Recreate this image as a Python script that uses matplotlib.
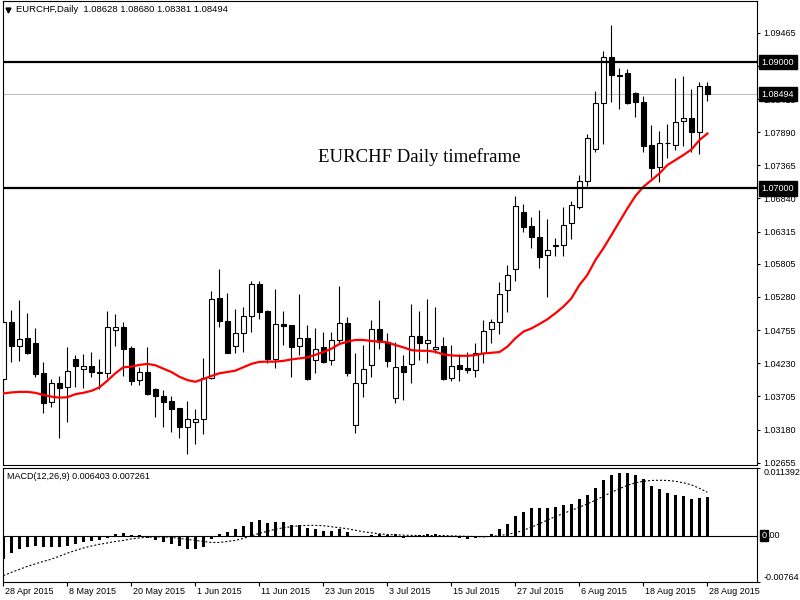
import matplotlib.pyplot as plt
from matplotlib.transforms import ScaledTranslation
import numpy as np

plt.rcParams['font.family'] = ['Liberation Sans', 'DejaVu Sans']

# daily bars, 28 Apr 2015 .. 28 Aug 2015
date_labels = ["28 Apr 2015", "8 May 2015", "20 May 2015", "1 Jun 2015", "11 Jun 2015",
               "23 Jun 2015", "3 Jul 2015", "15 Jul 2015", "27 Jul 2015", "6 Aug 2015",
               "18 Aug 2015", "28 Aug 2015"]

opens = [1.03980, 1.04881, 1.04508, 1.04626, 1.04546, 1.04071, 1.03612, 1.03912, 1.03848, 1.04295,
         1.04135, 1.04183, 1.04087, 1.04071, 1.04753, 1.04801, 1.04466, 1.03960, 1.04087, 1.03825,
         1.03713, 1.03633, 1.03521, 1.03213, 1.03303, 1.03341, 1.03991, 1.05261, 1.04899, 1.04498,
         1.04706, 1.04974, 1.05481, 1.05058, 1.04291, 1.04851, 1.04830, 1.04498, 1.04626, 1.04275,
         1.04482, 1.04275, 1.04594, 1.04862, 1.03249, 1.03912, 1.04199, 1.04766, 1.04562, 1.03676,
         1.04188, 1.04215, 1.04662, 1.04546, 1.04450, 1.04503, 1.03991, 1.04199, 1.04151, 1.04119,
         1.04386, 1.04774, 1.04878, 1.05389, 1.05720, 1.06622, 1.06398, 1.06223, 1.05939, 1.06087,
         1.06099, 1.06446, 1.06698, 1.07110, 1.07619, 1.08346, 1.09076, 1.08803, 1.08825, 1.08506,
         1.08362, 1.07687, 1.07337, 1.07711, 1.07679, 1.08067, 1.08112, 1.07896, 1.08628]
highs = [1.04961, 1.05074, 1.05234, 1.05034, 1.04785, 1.04243, 1.03980, 1.04028, 1.04482, 1.04359,
         1.04375, 1.04402, 1.04295, 1.05058, 1.05011, 1.04883, 1.04503, 1.04167, 1.04482, 1.03836,
         1.03800, 1.03713, 1.03526, 1.03633, 1.03501, 1.04307, 1.05382, 1.05725, 1.05341, 1.05086,
         1.05117, 1.05529, 1.05529, 1.05074, 1.05405, 1.05058, 1.04840, 1.05330, 1.04830, 1.04785,
         1.04726, 1.04721, 1.05457, 1.04958, 1.04391, 1.04519, 1.04915, 1.05234, 1.04706, 1.04562,
         1.04359, 1.05170, 1.05058, 1.05250, 1.05122, 1.04647, 1.04519, 1.04375, 1.04402, 1.04546,
         1.04915, 1.04926, 1.05521, 1.05789, 1.06882, 1.06754, 1.06547, 1.06658, 1.06510, 1.06207,
         1.06706, 1.06795, 1.07211, 1.07866, 1.08547, 1.09177, 1.09592, 1.08910, 1.08885, 1.08527,
         1.08463, 1.08003, 1.07907, 1.08019, 1.08755, 1.08782, 1.08570, 1.08686, 1.08680]
lows = [1.03777, 1.04252, 1.04268, 1.04380, 1.04017, 1.03446, 1.03542, 1.03042, 1.03303, 1.03857,
        1.03841, 1.04017, 1.03825, 1.03991, 1.04508, 1.04028, 1.03884, 1.03884, 1.03732, 1.03382,
        1.03223, 1.03147, 1.03042, 1.02786, 1.02946, 1.03106, 1.03975, 1.04801, 1.04388, 1.04386,
        1.04412, 1.04731, 1.04931, 1.04236, 1.04160, 1.04524, 1.04017, 1.04359, 1.03972, 1.04081,
        1.04242, 1.04208, 1.04530, 1.04028, 1.03131, 1.03702, 1.04017, 1.04455, 1.04176, 1.03601,
        1.03649, 1.03921, 1.04279, 1.04240, 1.04386, 1.03972, 1.03953, 1.03953, 1.04071, 1.04007,
        1.04240, 1.04556, 1.04690, 1.05047, 1.05538, 1.06302, 1.06057, 1.05732, 1.05283, 1.05933,
        1.05928, 1.06191, 1.06675, 1.07040, 1.07581, 1.07704, 1.08372, 1.08251, 1.08330, 1.08126,
        1.07571, 1.07166, 1.07093, 1.07476, 1.07608, 1.07677, 1.07581, 1.07539, 1.08381]
closes = [1.04881, 1.04508, 1.04615, 1.04396, 1.04065, 1.03606, 1.03912, 1.03841, 1.04103, 1.04192,
          1.04183, 1.04087, 1.04071, 1.04801, 1.04801, 1.04450, 1.03953, 1.04087, 1.03746, 1.03708,
          1.03622, 1.03510, 1.03223, 1.03346, 1.03341, 1.03991, 1.05245, 1.04894, 1.04396, 1.04706,
          1.04974, 1.05481, 1.05038, 1.04291, 1.04846, 1.04824, 1.04492, 1.04626, 1.03985, 1.04460,
          1.04252, 1.04594, 1.04862, 1.04081, 1.03912, 1.04135, 1.04766, 1.04562, 1.04268, 1.04167,
          1.04097, 1.04662, 1.04546, 1.04594, 1.04482, 1.03985, 1.04183, 1.04135, 1.04129, 1.04386,
          1.04737, 1.04878, 1.05325, 1.05624, 1.06717, 1.06382, 1.06223, 1.05917, 1.06019, 1.06099,
          1.06414, 1.06729, 1.07110, 1.07791, 1.08346, 1.09076, 1.08793, 1.08787, 1.08356, 1.08362,
          1.07676, 1.07316, 1.07711, 1.07721, 1.08046, 1.08112, 1.07896, 1.08618, 1.08494]

# red moving average
ma = [1.03752, 1.03768, 1.03777, 1.03777, 1.03762, 1.03729, 1.03702, 1.03686, 1.03692, 1.03740,
      1.03762, 1.03793, 1.03848, 1.03953, 1.04071, 1.04167, 1.04176, 1.04204, 1.04220, 1.04199,
      1.04145, 1.04092, 1.04017, 1.03964, 1.03937, 1.03980, 1.04028, 1.04071, 1.04092, 1.04113,
      1.04167, 1.04220, 1.04252, 1.04256, 1.04256, 1.04268, 1.04291, 1.04307, 1.04323, 1.04364,
      1.04407, 1.04460, 1.04535, 1.04572, 1.04599, 1.04599, 1.04583, 1.04572, 1.04562, 1.04519,
      1.04482, 1.04439, 1.04428, 1.04428, 1.04412, 1.04370, 1.04354, 1.04348, 1.04348, 1.04359,
      1.04386, 1.04396, 1.04407, 1.04492, 1.04626, 1.04731, 1.04782, 1.04851, 1.04926, 1.05022,
      1.05127, 1.05257, 1.05469, 1.05629, 1.05864, 1.06051, 1.06259, 1.06472, 1.06682, 1.06878,
      1.07026, 1.07129, 1.07236, 1.07369, 1.07448, 1.07528, 1.07615, 1.07764, 1.07868]

# MACD(12,26,9): histogram (main) and dotted signal
macd = [-0.00384, -0.00293, -0.00225, -0.00181, -0.00164, -0.00181, -0.00181, -0.00181, -0.00164, -0.00135,
        -0.00107, -0.00090, -0.00073, -0.00034, 0.00034, 0.00051, 0.00022, 0.00017, -0.00034, -0.00073,
        -0.00107, -0.00135, -0.00174, -0.00215, -0.00225, -0.00191, -0.00056, 0.00034, 0.00056, 0.00107,
        0.00157, 0.00225, 0.00266, 0.00208, 0.00225, 0.00225, 0.00186, 0.00174, 0.00130, 0.00107,
        0.00080, 0.00080, 0.00113, 0.00056, 0.00000, -0.00017, 0.00017, 0.00034, 0.00022, 0.00034,
        -0.00034, 0.00005, 0.00017, 0.00029, 0.00034, -0.00022, -0.00017, -0.00029, -0.00051, -0.00034,
        -0.00022, 0.00029, 0.00107, 0.00191, 0.00327, 0.00405, 0.00456, 0.00472, 0.00472, 0.00489,
        0.00506, 0.00539, 0.00606, 0.00689, 0.00802, 0.00923, 0.01014, 0.01040, 0.01040, 0.01007,
        0.00940, 0.00823, 0.00773, 0.00713, 0.00689, 0.00672, 0.00622, 0.00639, 0.006403]
signal = [-0.00663, -0.00609, -0.00559, -0.00509, -0.00467, -0.00426, -0.00389, -0.00339, -0.00288, -0.00245,
          -0.00203, -0.00169, -0.00141, -0.00119, -0.00093, -0.00076, -0.00051, -0.00034, -0.00025, -0.00017,
          -0.00017, -0.00025, -0.00042, -0.00059, -0.00076, -0.00093, -0.00110, -0.00110, -0.00093, -0.00076,
          -0.00042, 0.00000, 0.00042, 0.00076, 0.00110, 0.00135, 0.00152, 0.00169, 0.00174, 0.00174,
          0.00169, 0.00152, 0.00135, 0.00119, 0.00093, 0.00068, 0.00051, 0.00034, 0.00022, 0.00017,
          0.00012, 0.00008, 0.00005, 0.00005, 0.00005, 0.00005, 0.00000, -0.00005, -0.00008, -0.00012,
          -0.00017, -0.00008, 0.00005, 0.00025, 0.00051, 0.00093, 0.00144, 0.00203, 0.00262, 0.00322,
          0.00372, 0.00426, 0.00476, 0.00534, 0.00593, 0.00660, 0.00726, 0.00785, 0.00843, 0.00884,
          0.00910, 0.00923, 0.00927, 0.00923, 0.00910, 0.00884, 0.00851, 0.00793, 0.007261]

price_ticks = [1.09465, 1.08940, 1.08415, 1.07890, 1.07365, 1.06840, 1.06315, 1.05805,
               1.05280, 1.04755, 1.04230, 1.03705, 1.03180, 1.02655]
levels = [1.09000, 1.07000]

o = np.array(opens)
h = np.array(highs)
l = np.array(lows)
c = np.array(closes)
x = np.arange(len(o))

fig = plt.figure(figsize=(8, 6), dpi=100)
ax = fig.add_axes([2.7 / 800, 1 - 465 / 600, 754.3 / 800, 464 / 600])
axm = fig.add_axes([2.7 / 800, 1 - 581.7 / 600, 754.3 / 800, 114.2 / 600])

for a in (ax, axm):
    a.set_xlim(-0.075, 94.2)
    for s in a.spines.values():
        s.set_linewidth(0.8)
        s.set_color('black')

# candles
ax.vlines(x, l, h, color='black', lw=0.8, zorder=2)
up = c >= o
ax.bar(x[up], c[up] - o[up], bottom=o[up], width=0.6, facecolor='white',
       edgecolor='black', linewidth=0.8, zorder=3)
ax.bar(x[~up], o[~up] - c[~up], bottom=c[~up], width=0.6, facecolor='black',
       edgecolor='black', linewidth=0.8, zorder=3)
ax.plot(x, ma, color='red', lw=1.6, zorder=4)

for lv in levels:
    ax.axhline(lv, color='black', lw=1.6, zorder=5)
ax.axhline(closes[-1], color='#c0c0c0', lw=0.8, zorder=1)

ax.set_ylim(1.02619, 1.09967)
ax.set_xticks([])
ax.yaxis.tick_right()
ax.set_yticks(price_ticks)
ax.set_yticklabels([f"{v:.5f}" for v in price_ticks])
ax.tick_params(axis='y', direction='out', length=2.5, width=0.8, pad=2, labelsize=6.5)

ytr = ax.get_yaxis_transform()
for v in levels + [closes[-1]]:
    ax.text(1.006, v, f"{v:.5f}", transform=ytr, ha='left', va='center', fontsize=6.5,
            color='white', clip_on=False, zorder=10,
            bbox=dict(boxstyle='square,pad=0.3', facecolor='black', edgecolor='black'))

ax.plot([0.0075], [0.981], marker='v', ms=3.5, color='black', transform=ax.transAxes)
ax.text(0.0176, 0.981, "EURCHF,Daily  %.5f %.5f %.5f %.5f" % (opens[-1], highs[-1], lows[-1], closes[-1]),
        transform=ax.transAxes, ha='left', va='center', fontsize=6.8)
ax.text(39.3, 1.0750, "EURCHF Daily timeframe", ha='left', va='center',
        fontsize=13.5, family=['Liberation Serif', 'DejaVu Serif'])

# MACD panel
axm.bar(x, macd, width=0.38, color='black', zorder=3)
axm.plot(x, signal, color='black', lw=0.8, ls=(0, (1.8, 1.8)), zorder=4)
axm.axhline(0, color='black', lw=0.8, zorder=2)
axm.set_ylim(-0.00764, 0.011392)
axm.yaxis.tick_right()
axm.set_yticks([0.011392, -0.00764])
axm.set_yticklabels(["0.011392", "-0.00764"])
axm.tick_params(axis='y', direction='out', length=2.5, width=0.8, pad=2, labelsize=6.5)
tl = axm.get_yticklabels()
tl[0].set_va('top')
tl[1].set_va('bottom')

# zero label: first digit in a black box, rest plain
mtr = axm.get_yaxis_transform()
axm.text(1.006, 0, "0", transform=mtr, ha='left', va='center', fontsize=6.5, color='white',
         clip_on=False, zorder=10,
         bbox=dict(boxstyle='square,pad=0.12', facecolor='black', edgecolor='black'))
rest = mtr + ScaledTranslation(4.2 / 72, 0, fig.dpi_scale_trans)
axm.text(1.006, 0, ".00", transform=rest, ha='left', va='center', fontsize=6.5, clip_on=False)

axm.text(0.0057, 0.925, "MACD(12,26,9) %.6f %.6f" % (macd[-1], signal[-1]),
         transform=axm.transAxes, ha='left', va='center', fontsize=6.5)

axm.set_xticks(np.arange(0, len(o), 8))
axm.set_xticklabels(date_labels, ha='left')
axm.tick_params(axis='x', direction='out', length=3, width=0.8, pad=0.5, labelsize=6.5)
shift = ScaledTranslation(2 / 100, 0, fig.dpi_scale_trans)
for lb in axm.get_xticklabels():
    lb.set_transform(lb.get_transform() + shift)

fig.savefig("out.png", dpi=100)
